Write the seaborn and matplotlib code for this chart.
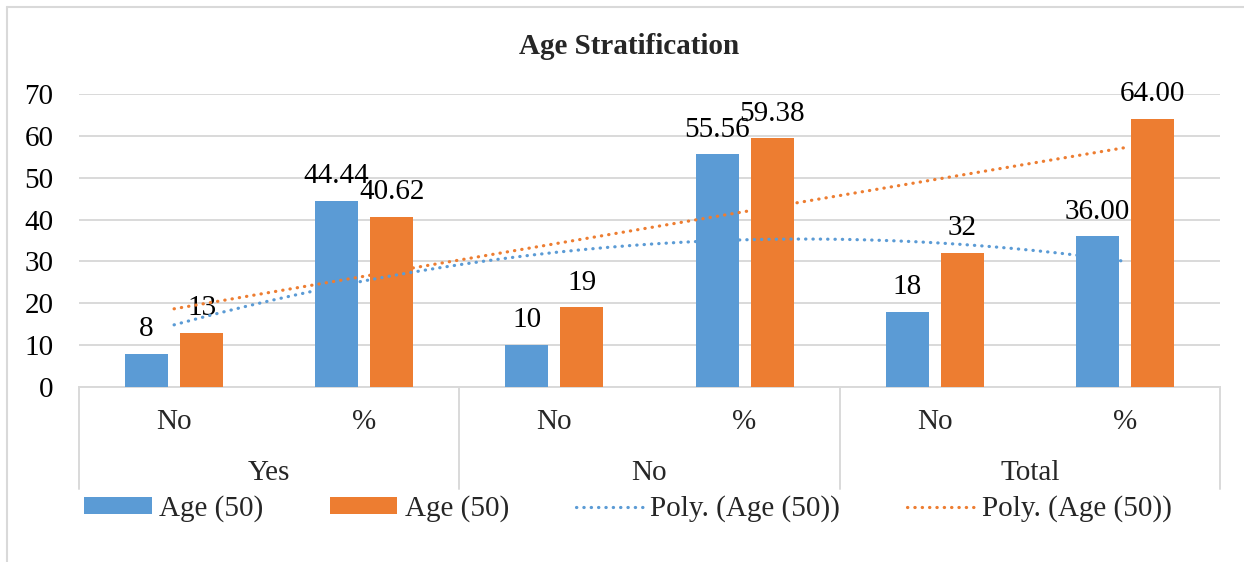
import numpy as np
import pandas as pd
import matplotlib.pyplot as plt
import seaborn as sns
from matplotlib.lines import Line2D
from matplotlib.patches import Patch

# data
groups = ["Yes", "No", "Total"]
subcats = ["No", "%"]
blue_vals = [8, 44.44, 10, 55.56, 18, 36.00]
orange_vals = [13, 40.62, 19, 59.38, 32, 64.00]
series_name = "Age (50)"
trend_name = "Poly. (Age (50))"

BLUE = "#5B9BD5"
ORANGE = "#ED7D31"
GRID = "#D9D9D9"
DOTS = (0, (0.1, 2.2))

sns.set_style("white")
plt.rcParams["font.family"] = ["Liberation Serif", "DejaVu Serif"]

# one row per bar
cats = [f"{g}|{s}" for g in groups for s in subcats]
df = pd.DataFrame({
    "cat": cats * 2,
    "value": blue_vals + orange_vals,
    "series": ["s1"] * len(cats) + ["s2"] * len(cats),
})

fig = plt.figure(figsize=(12.44, 5.62), dpi=100)
ax = fig.add_axes([79 / 1244, 1 - 387 / 562, 1141 / 1244, 293 / 562])

sns.barplot(data=df, x="cat", y="value", hue="series", order=cats,
            palette=[BLUE, ORANGE], width=0.58, gap=0.22, saturation=1,
            linewidth=0, legend=False, ax=ax, zorder=3)

# polynomial (order 2) trendlines, like Excel
xs = np.arange(len(cats))
xfine = np.linspace(0, len(cats) - 1, 200)
for vals, col in [(blue_vals, BLUE), (orange_vals, ORANGE)]:
    coef = np.polyfit(xs, vals, 2)
    ax.plot(xfine, np.polyval(coef, xfine), color=col, lw=2.3,
            linestyle=DOTS, dash_capstyle="round", zorder=4)

# data labels
for cont, vals in zip(ax.containers, [blue_vals, orange_vals]):
    labs = []
    for i, v in enumerate(vals):
        labs.append(f"{v:.2f}" if subcats[i % 2] == "%" else f"{v:.0f}")
    ax.bar_label(cont, labels=labs, padding=8.5, fontsize=21, color="black")

ax.set_xlim(-0.5, len(cats) - 0.5)
ax.set_ylim(0, 70)
ax.set_yticks(range(0, 71, 10))
ax.tick_params(axis="y", labelsize=21, length=0, pad=18.5, labelcolor="black")
ax.set_xticks([])
ax.set_xlabel("")
ax.set_ylabel("")
ax.yaxis.grid(True, color=GRID, lw=1.4)
ax.set_axisbelow(True)
for side in ["left", "right", "top"]:
    ax.spines[side].set_visible(False)
ax.spines["bottom"].set_color(GRID)
ax.spines["bottom"].set_linewidth(1.4)

# two level category axis
tr = ax.get_xaxis_transform()
for i, c in enumerate(cats):
    ax.text(i, -35 / 293, c.split("|")[1], transform=tr, ha="center",
            va="center", fontsize=21)
for j, g in enumerate(groups):
    ax.text(j * 2 + 0.5, -86 / 293, g, transform=tr, ha="center",
            va="center", fontsize=21)
for xsep in np.arange(-0.5, len(cats), 2):
    ax.plot([xsep, xsep], [0, -102 / 293], transform=tr, color=GRID,
            lw=1.4, clip_on=False)

# title
fig.text(629 / 1244, 1 - 46 / 562, "Age Stratification", ha="center",
         va="center", fontsize=21, fontweight="bold")

# legend
handles = [
    Patch(facecolor=BLUE, edgecolor="none"),
    Patch(facecolor=ORANGE, edgecolor="none"),
    Line2D([], [], color=BLUE, lw=2.3, linestyle=DOTS, dash_capstyle="round"),
    Line2D([], [], color=ORANGE, lw=2.3, linestyle=DOTS, dash_capstyle="round"),
]
fig.legend(handles, [series_name, series_name, trend_name, trend_name],
           loc="center", bbox_to_anchor=(628 / 1244, 1 - 509 / 562), ncol=4,
           frameon=False, fontsize=21, handlelength=2.3, handleheight=0.5,
           handletextpad=0.25, columnspacing=2.3)

# chart border (only top and left are inside the picture)
fig.add_artist(Line2D([7 / 1244, 1], [1 - 7 / 562, 1 - 7 / 562],
                      transform=fig.transFigure, color=GRID, lw=1.5))
fig.add_artist(Line2D([7 / 1244, 7 / 1244], [0, 1 - 7 / 562],
                      transform=fig.transFigure, color=GRID, lw=1.5))

fig.savefig("out.png", dpi=100)
